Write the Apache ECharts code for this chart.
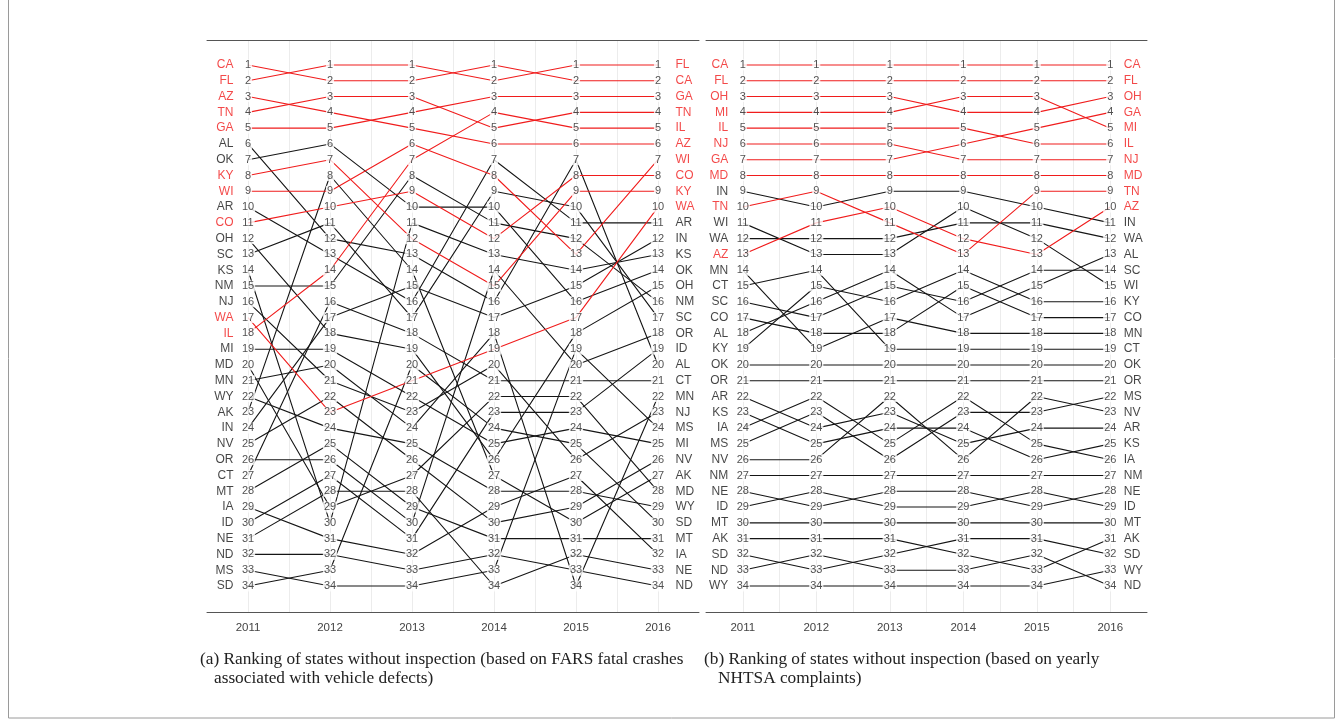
<!DOCTYPE html>
<html>
<head>
<meta charset="utf-8">
<script src="https://cdn.jsdelivr.net/npm/echarts@6/dist/echarts.min.js"></script>
<style>
  html, body { margin: 0; padding: 0; background: #fff; }
  #chart { width: 1343px; height: 722px; }
</style>
</head>
<body>
<div id="chart"></div>
<script>
// years on the x axis
const years = [2011, 2012, 2013, 2014, 2015, 2016]

// (a) FARS fatal crashes: states listed in rank order (1..34) per year
const rankA2011 = ['CA','FL','AZ','TN','GA','AL','OK','KY','WI','AR','CO','OH','SC','KS','NM','NJ','WA','IL','MI','MD','MN','WY','AK','IN','NV','OR','CT','MT','IA','ID','NE','ND','MS','SD']
const rankA2012 = ['FL','CA','TN','AZ','GA','OK','KY','AK','WI','CO','SC','AL','AR','IL','NM','CT','IN','OH','MI','MN','NJ','NV','WA','WY','MT','OR','ID','NE','MD','KS','IA','ND','SD','MS']
const rankA2013 = ['FL','CA','TN','GA','AZ','WI','IL','NM','CO','OK','KS','KY','AL','AK','IN','AR','SC','CT','OH','SD','WA','MI','NJ','MN','WY','NV','MD','NE','MT','OR','ID','IA','ND','MS']
const rankA2014 = ['CA','FL','GA','IL','TN','AZ','AR','WI','SC','OK','NM','CO','KS','OR','KY','AL','IN','MN','WA','NJ','CT','MD','ID','SD','MI','OH','AK','WY','IA','NV','MT','ND','MS','NE']
const rankA2015 = ['FL','CA','GA','TN','IL','AZ','AL','CO','KY','SC','AR','NM','WI','KS','IN','OK','WA','OH','MS','OR','CT','MD','ID','MI','SD','NJ','IA','WY','NV','AK','MT','NE','ND','MN']
const rankA2016 = ['FL','CA','GA','TN','IL','AZ','WI','CO','KY','WA','AR','IN','KS','OK','OH','NM','SC','OR','ID','AL','CT','MN','NJ','MS','MI','NV','AK','MD','WY','SD','MT','IA','NE','ND']
const redA = ['CA','FL','AZ','TN','GA','KY','WI','CO','WA','IL']

// (b) yearly NHTSA complaints
const rankB2011 = ['CA','FL','OH','MI','IL','NJ','GA','MD','IN','TN','WI','WA','AZ','MN','CT','SC','CO','AL','KY','OK','OR','AR','KS','IA','MS','NV','NM','NE','ID','MT','AK','SD','ND','WY']
const rankB2012 = ['CA','FL','OH','MI','IL','NJ','GA','MD','TN','IN','AZ','WA','WI','CT','KY','AL','SC','CO','MN','OK','OR','IA','MS','AR','KS','NV','NM','ID','NE','MT','AK','ND','SD','WY']
const rankB2013 = ['CA','FL','OH','MI','IL','NJ','GA','MD','IN','AZ','TN','WA','WI','AL','SC','KY','MN','CO','CT','OK','OR','NV','AR','KS','IA','MS','NM','NE','ID','MT','AK','SD','ND','WY']
const rankB2014 = ['CA','FL','MI','OH','IL','GA','NJ','MD','IN','WI','WA','AZ','TN','KY','CO','SC','AL','MN','CT','OK','OR','IA','MS','KS','AR','NV','NM','NE','ID','MT','SD','AK','ND','WY']
const rankB2015 = ['CA','FL','MI','OH','GA','IL','NJ','MD','TN','IN','WA','WI','AZ','SC','AL','KY','CO','MN','CT','OK','OR','NV','MS','AR','IA','KS','NM','ID','NE','MT','SD','ND','AK','WY']
const rankB2016 = ['CA','FL','OH','GA','MI','IL','NJ','MD','TN','AZ','IN','WA','AL','SC','WI','KY','CO','MN','CT','OK','OR','MS','NV','AR','KS','IA','NM','NE','ID','MT','AK','SD','WY','ND']
const redB = ['CA','FL','OH','MI','IL','NJ','GA','MD','TN','AZ']

const RED = '#f01c1c'
const INK = '#151515'
const NUM = '#262626'
const SANS = "'Liberation Sans Narrow', 'Liberation Sans', Arial, sans-serif"
const SERIF = "'Liberation Serif', 'Times New Roman', serif"

const chart = echarts.init(document.getElementById('chart'))

/**
 * build the series of one bump panel
 */
function panelSeries(idx, orders, red, rightGap) {
  const list = []
  const states = orders[0]

  // one line per state
  states.forEach(s => {
    const isRed = red.includes(s)
    list.push({
      type: 'line',
      xAxisIndex: idx * 2,
      yAxisIndex: idx,
      data: orders.map((o, j) => [years[j], o.indexOf(s) + 1]),
      symbol: 'none',
      silent: true,
      lineStyle: { color: isRed ? RED : INK, width: 1.1 },
      z: isRed ? 3 : 2
    })
  })

  // rank numbers on every point
  const nums = []
  orders.forEach((o, j) => o.forEach((s, i) => nums.push([years[j], i + 1])))
  list.push({
    type: 'scatter',
    xAxisIndex: idx * 2,
    yAxisIndex: idx,
    data: nums,
    symbolSize: 1,
    itemStyle: { color: 'rgba(0,0,0,0)' },
    silent: true,
    z: 6,
    label: {
      show: true,
      position: 'inside',
      formatter: p => p.value[1],
      fontFamily: SANS,
      fontSize: 11,
      color: NUM,
      backgroundColor: '#fff',
      padding: [0, 1]
    }
  })

  // state names, left and right
  const nameSeries = (order, year, pos, gap) => ({
    type: 'scatter',
    xAxisIndex: idx * 2,
    yAxisIndex: idx,
    data: order.map((s, i) => ({
      value: [year, i + 1],
      name: s,
      label: { color: red.includes(s) ? RED : INK }
    })),
    symbolSize: 1,
    itemStyle: { color: 'rgba(0,0,0,0)' },
    silent: true,
    z: 6,
    label: {
      show: true,
      position: pos,
      distance: gap,
      formatter: '{b}',
      fontFamily: SANS,
      fontSize: 12
    }
  })
  list.push(nameSeries(orders[0], years[0], 'left', 14))
  list.push(nameSeries(orders[orders.length - 1], years[years.length - 1], 'right', rightGap))
  return list
}

const ordersA = [rankA2011, rankA2012, rankA2013, rankA2014, rankA2015, rankA2016]
const ordersB = [rankB2011, rankB2012, rankB2013, rankB2014, rankB2015, rankB2016]

// x axes: bottom one with year labels and grid lines, top one only for the frame line
function xAxes(gridIndex) {
  return [
    {
      type: 'value',
      gridIndex,
      position: 'bottom',
      min: 2010.5,
      max: 2016.5,
      interval: 0.5,
      axisLine: { show: true, onZero: false, lineStyle: { color: '#555', width: 1 } },
      axisTick: { show: false },
      axisLabel: {
        formatter: v => (Number.isInteger(v) ? String(v) : ''),
        color: '#444',
        fontFamily: SANS,
        fontSize: 11.5,
        margin: 10
      },
      splitLine: { show: true, showMinLine: false, showMaxLine: false, lineStyle: { color: '#ececec', width: 1 } }
    },
    {
      type: 'value',
      gridIndex,
      position: 'top',
      min: 2010.5,
      max: 2016.5,
      axisLine: { show: true, onZero: false, lineStyle: { color: '#555', width: 1 } },
      axisTick: { show: false },
      axisLabel: { show: false },
      splitLine: { show: false }
    }
  ]
}

function yAxis(gridIndex) {
  return {
    type: 'value',
    gridIndex,
    inverse: true,
    min: -0.583,
    max: 35.647,
    show: false
  }
}

const option = {
  backgroundColor: '#fff',
  animation: false,
  grid: [
    { left: 207, top: 40, width: 492, height: 572 },
    { left: 706, top: 40, width: 441, height: 572 }
  ],
  xAxis: [...xAxes(0), ...xAxes(1)],
  yAxis: [yAxis(0), yAxis(1)],
  series: [
    ...panelSeries(0, ordersA, redA, 17),
    ...panelSeries(1, ordersB, redB, 13)
  ],
  graphic: [
    {
      type: 'rect',
      shape: { x: 8.5, y: -2, width: 1326, height: 720 },
      style: { fill: 'none', stroke: '#9a9a9a', lineWidth: 1 },
      silent: true
    },
    {
      type: 'text', left: 200, top: 651,
      style: { text: '(a) Ranking of states without inspection (based on FARS fatal crashes', font: '17.3px ' + SERIF, fill: '#222' }
    },
    {
      type: 'text', left: 214, top: 670,
      style: { text: 'associated with vehicle defects)', font: '17.3px ' + SERIF, fill: '#222' }
    },
    {
      type: 'text', left: 704, top: 651,
      style: { text: '(b) Ranking of states without inspection (based on yearly', font: '17.3px ' + SERIF, fill: '#222' }
    },
    {
      type: 'text', left: 718, top: 670,
      style: { text: 'NHTSA complaints)', font: '17.3px ' + SERIF, fill: '#222' }
    }
  ]
}

chart.setOption(option)
</script>
</body>
</html>
